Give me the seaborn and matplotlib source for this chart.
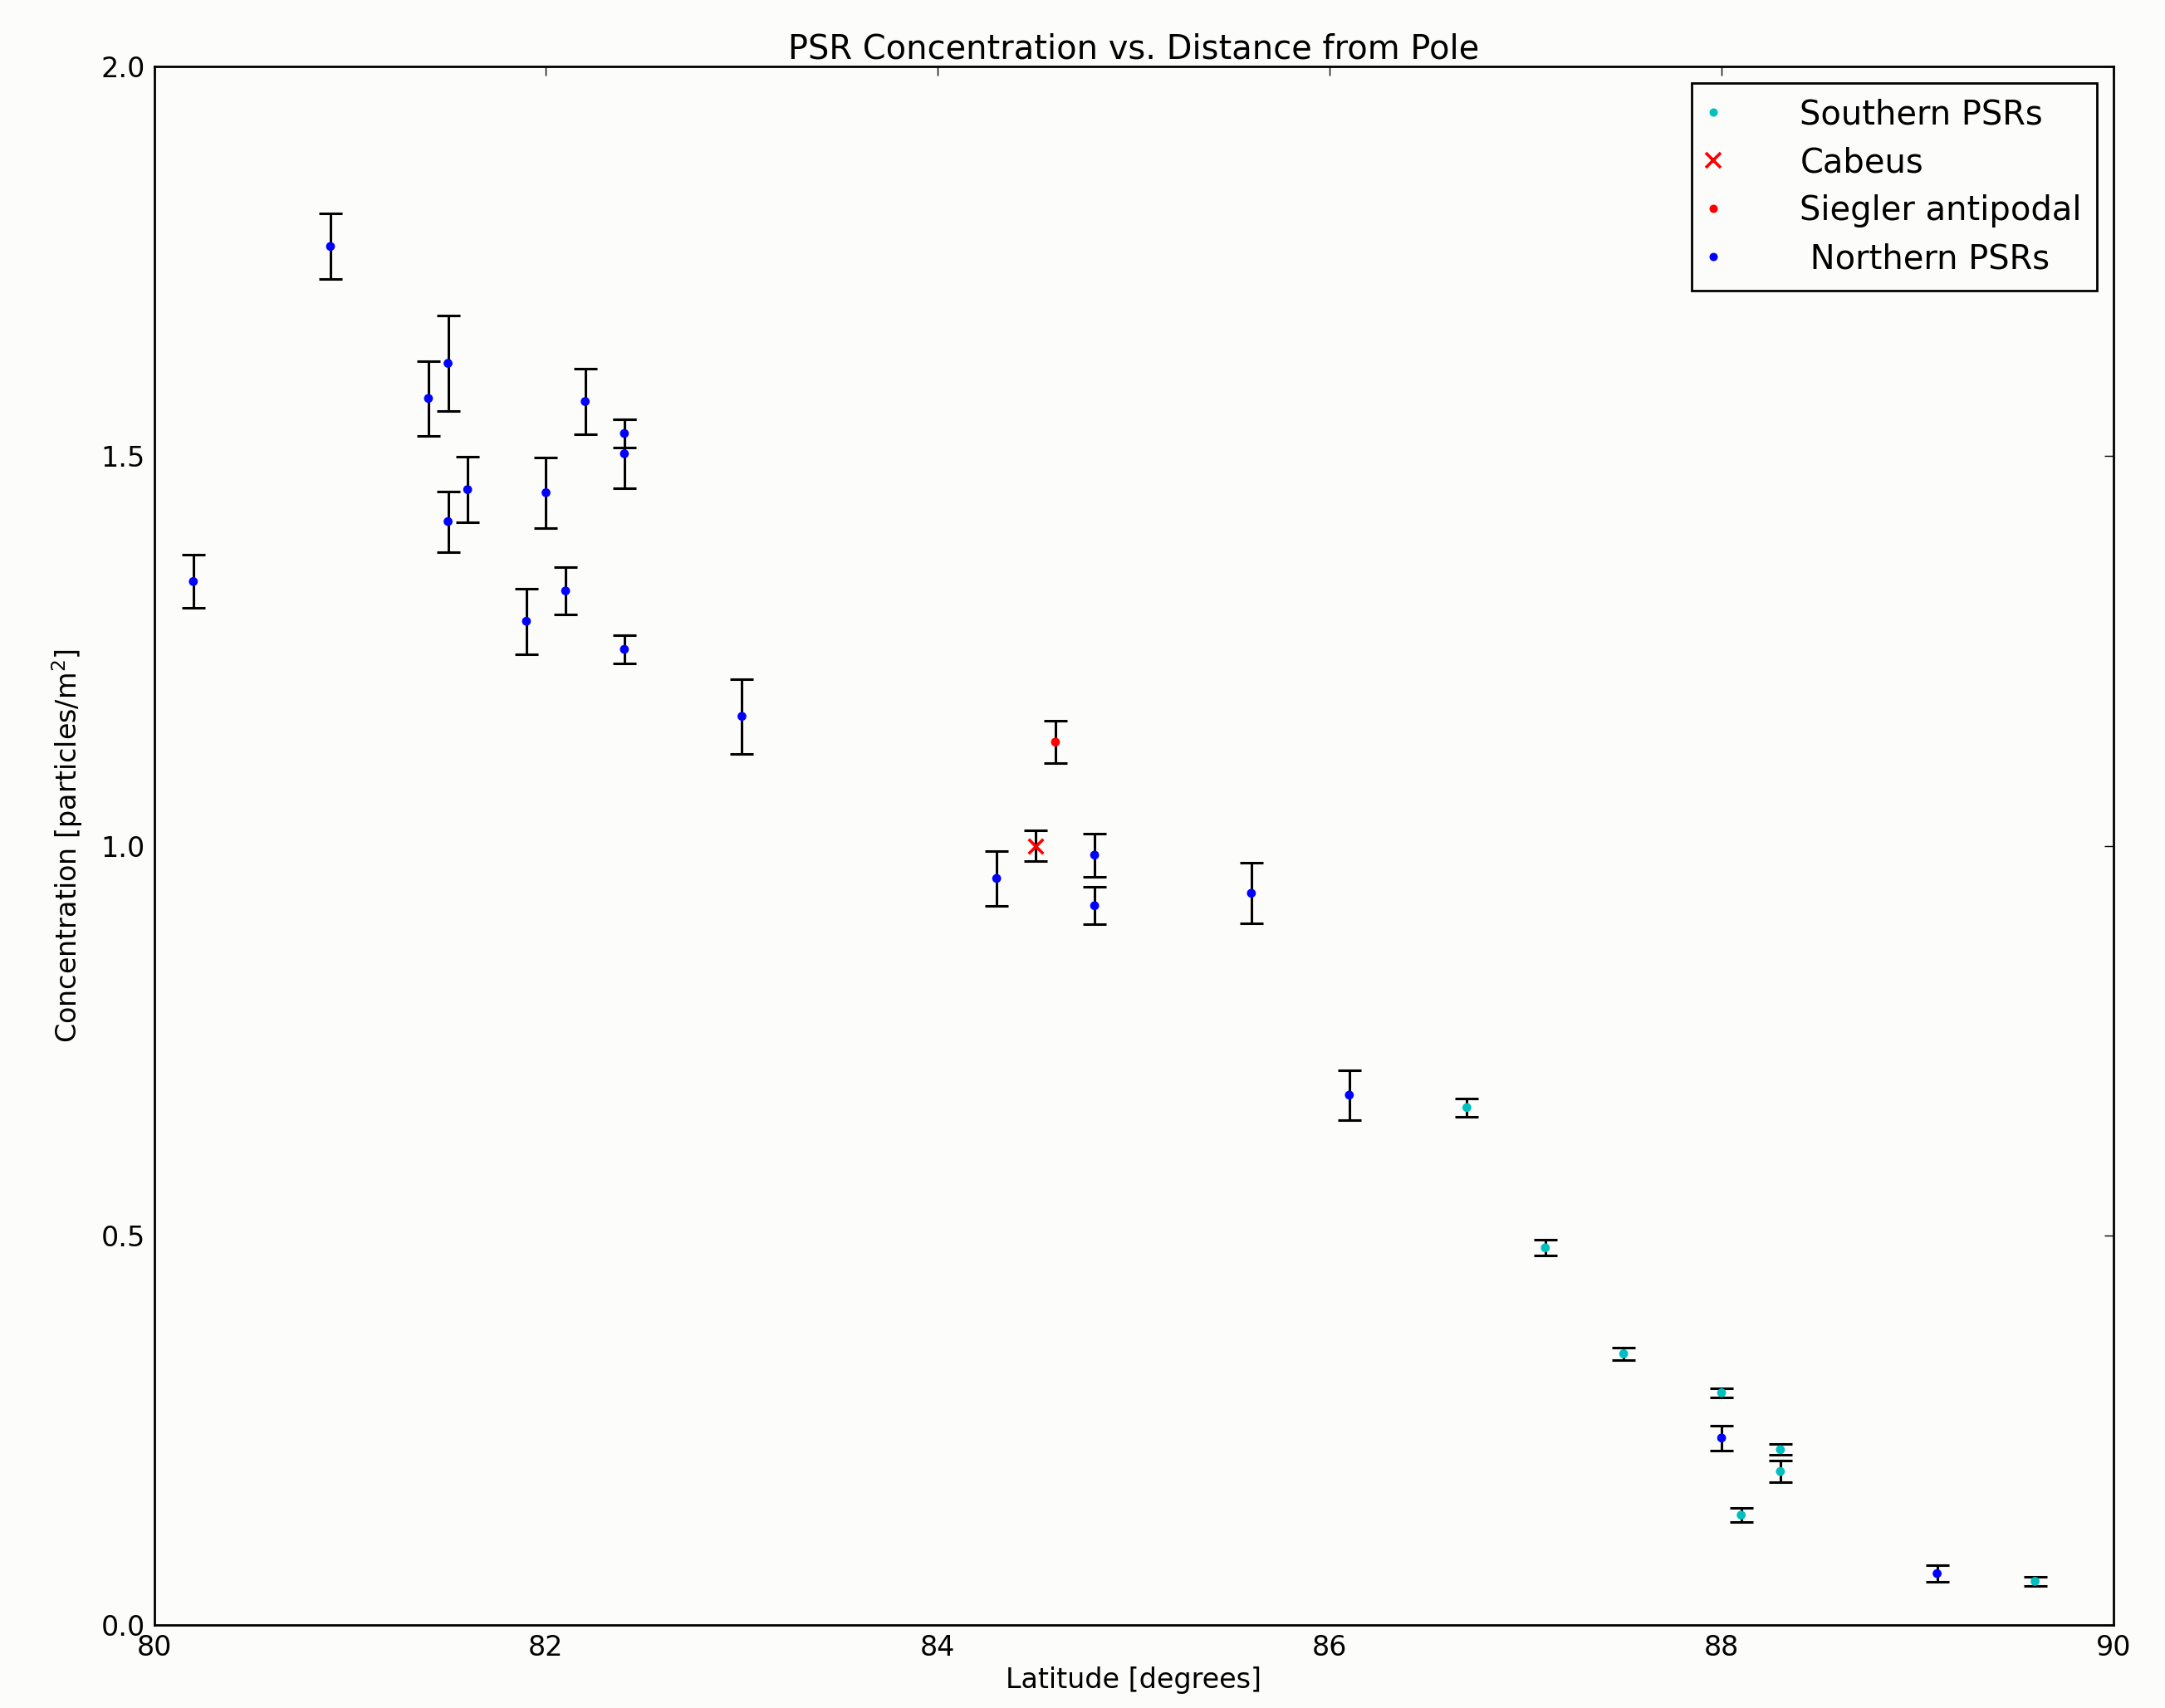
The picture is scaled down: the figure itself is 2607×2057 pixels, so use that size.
import numpy as np
import pandas as pd
import matplotlib
matplotlib.use("Agg")
import matplotlib.pyplot as plt
import seaborn as sns
from matplotlib.lines import Line2D

# ---- data ----
north_lat = [80.2, 80.9, 81.4, 81.5, 81.5, 81.6, 81.9, 82.0, 82.1, 82.2, 82.4, 82.4, 82.4,
             83.0, 84.3, 84.8, 84.8, 85.6, 86.1, 88.0, 89.1]
north_conc = [1.339, 1.769, 1.574, 1.619, 1.416, 1.457, 1.288, 1.453, 1.327, 1.570, 1.529, 1.503, 1.252,
              1.166, 0.958, 0.988, 0.923, 0.939, 0.680, 0.240, 0.066]
north_err = [0.034, 0.042, 0.048, 0.061, 0.039, 0.042, 0.042, 0.045, 0.030, 0.042, 0.018, 0.044, 0.018,
             0.048, 0.035, 0.028, 0.024, 0.039, 0.032, 0.016, 0.011]

south_lat = [86.7, 87.1, 87.5, 88.0, 88.1, 88.3, 88.3, 89.6]
south_conc = [0.664, 0.484, 0.348, 0.298, 0.141, 0.225, 0.197, 0.056]
south_err = [0.012, 0.010, 0.008, 0.006, 0.009, 0.007, 0.014, 0.0055]

cabeus_lat = [84.5]
cabeus_conc = [1.0]
cabeus_err = [0.02]

siegler_lat = [84.6]
siegler_conc = [1.133]
siegler_err = [0.027]

legend_labels = ["Southern PSRs", "Cabeus", "Siegler antipodal", " Northern PSRs"]
x_ticks = [80, 82, 84, 86, 88, 90]
y_ticks = [0.0, 0.5, 1.0, 1.5, 2.0]

# ---- build table ----
frames = []
for name, lat, conc, err in [("Southern PSRs", south_lat, south_conc, south_err),
                             ("Cabeus", cabeus_lat, cabeus_conc, cabeus_err),
                             ("Siegler antipodal", siegler_lat, siegler_conc, siegler_err),
                             ("Northern PSRs", north_lat, north_conc, north_err)]:
    frames.append(pd.DataFrame({"lat": lat, "conc": conc, "err": err, "group": name}))
df = pd.concat(frames, ignore_index=True)

sns.set_style("white")
plt.rcParams.update({
    "font.family": ["DejaVu Sans"],
    "font.size": 12,
    "xtick.direction": "in",
    "ytick.direction": "in",
    "xtick.top": True,
    "ytick.right": True,
    "xtick.major.size": 4,
    "ytick.major.size": 4,
    "xtick.major.width": 0.5,
    "ytick.major.width": 0.5,
    "xtick.color": "black",
    "ytick.color": "black",
    "xtick.labelsize": 12,
    "ytick.labelsize": 12,
    "axes.edgecolor": "black",
    "axes.linewidth": 1.0,
    "axes.labelcolor": "black",
    "text.color": "black",
    "mathtext.default": "regular",
})

bg = "#fcfcfa"
fig = plt.figure(figsize=(13.035, 10.285), dpi=200, facecolor=bg)
ax = fig.add_axes([0.0712, 0.0486, 0.9762 - 0.0712, 0.9611 - 0.0486])
ax.set_facecolor(bg)

# error bars
ax.errorbar(df["lat"], df["conc"], yerr=df["err"], fmt="none", ecolor="black",
            elinewidth=1.1, capsize=5, capthick=1.1, zorder=2)

palette = {"Southern PSRs": "c", "Cabeus": "r", "Siegler antipodal": "r", "Northern PSRs": "b"}
sub = df[df["group"] != "Cabeus"]
sns.scatterplot(data=sub, x="lat", y="conc", hue="group", palette=palette, marker="o",
                s=15, linewidth=0, legend=False, ax=ax, zorder=3)
cab = df[df["group"] == "Cabeus"]
sns.scatterplot(data=cab, x="lat", y="conc", color="r", marker="x", s=40,
                linewidth=1.3, legend=False, ax=ax, zorder=3)

ax.set_xlim(80, 90)
ax.set_ylim(0, 2.0)
ax.set_xticks(x_ticks)
ax.set_xticklabels([str(t) for t in x_ticks])
ax.set_yticks(y_ticks)
ax.set_yticklabels([f"{t:.1f}" for t in y_ticks])
ax.tick_params(pad=4)
for s in ax.spines.values():
    s.set_visible(True)
    s.set_color("black")
    s.set_linewidth(1.0)

ax.set_title("PSR Concentration vs. Distance from Pole", fontsize=14.4, pad=3.5)
ax.set_xlabel("Latitude [degrees]", fontsize=12, labelpad=2)
ax.set_ylabel("Concentration [particles/m$^2$]", fontsize=12, labelpad=7)

handles = [
    Line2D([], [], linestyle="none", marker="o", markersize=3.6, color="c", markeredgewidth=0),
    Line2D([], [], linestyle="none", marker="x", markersize=6.5, color="r", markeredgewidth=1.3),
    Line2D([], [], linestyle="none", marker="o", markersize=3.6, color="r", markeredgewidth=0),
    Line2D([], [], linestyle="none", marker="o", markersize=3.6, color="b", markeredgewidth=0),
]
leg = ax.legend(handles, legend_labels, loc="upper right", fontsize=14.4, numpoints=1,
                handlelength=0.4, handletextpad=2.4, borderpad=0.45, labelspacing=0.45,
                borderaxespad=0.5, frameon=True, fancybox=False, framealpha=1.0)
leg.get_frame().set_edgecolor("black")
leg.get_frame().set_linewidth(1.0)
leg.get_frame().set_facecolor(bg)

fig.savefig("out.png", dpi=200, facecolor=bg)
